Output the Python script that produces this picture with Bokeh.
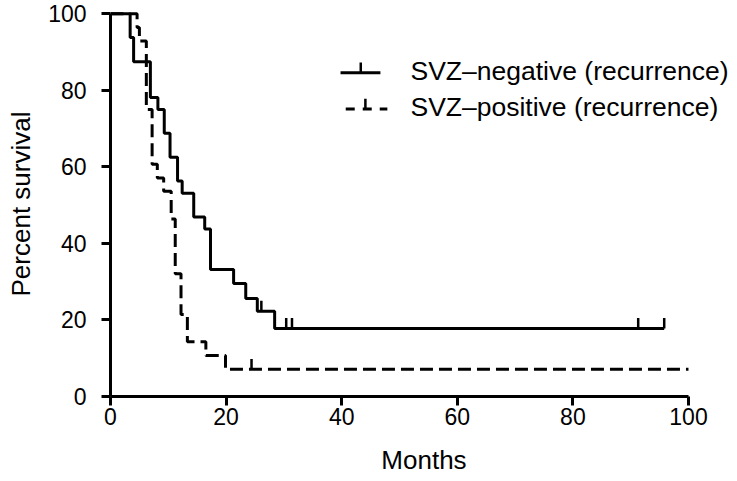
import numpy as np
from bokeh.plotting import figure
from bokeh.models import Range1d, FixedTicker, Label
from bokeh.embed import file_html
from bokeh.resources import INLINE

# ---- data ----
neg_months = [0, 3.4, 4.0, 6.9, 8.2, 9.3, 10.3, 11.6, 12.4, 14.4, 16.3, 17.3, 21.3, 23.4, 25.4, 28.4, 95.8]
neg_survival = [100, 93.8, 87.5, 78.1, 75.0, 68.8, 62.5, 56.3, 53.1, 46.9, 43.8, 33.2, 29.5, 25.6, 22.3, 17.8, 17.8]
neg_censored = [26.1, 30.4, 31.4, 91.3, 95.8]

pos_months = [0, 4.6, 5.0, 6.2, 7.2, 8.1, 9.2, 10.5, 11.2, 12.2, 13.3, 16.5, 19.9, 100]
pos_survival = [100, 96.4, 92.9, 75.0, 60.7, 57.1, 53.6, 46.4, 32.1, 21.4, 14.3, 10.7, 7.1, 7.1]
pos_censored = [24.4]

x_ticks = [0, 20, 40, 60, 80, 100]
y_ticks = [0, 20, 40, 60, 80, 100]
series_labels = ["SVZ\u2013negative (recurrence)", "SVZ\u2013positive (recurrence)"]
x_label = "Months"
y_label = "Percent survival"

FONT = "Liberation Sans"
TICK_H = 2.7  # censor tick height in % units


def level_at(t, months, surv):
    idx = np.searchsorted(np.asarray(months), np.asarray(t), side="right") - 1
    return np.asarray(surv)[idx]


# frame spans to the right edge so the legend text is not clipped; axes are bounded to 0..100
p = figure(width=737, height=481, output_backend="svg", toolbar_location=None,
           x_range=Range1d(0, 108.48), y_range=Range1d(0, 100.6),
           min_border_left=110, min_border_right=0, min_border_top=11, min_border_bottom=85)
p.background_fill_color = "white"
p.border_fill_color = "white"
p.outline_line_color = None
p.grid.visible = False

# curves
p.step(x=neg_months, y=neg_survival, mode="after", line_color="black", line_width=3)
p.step(x=pos_months, y=pos_survival, mode="after", line_color="black", line_width=3,
       line_dash="13 6")

# censor marks
ny = level_at(neg_censored, neg_months, neg_survival)
p.segment(x0=neg_censored, y0=ny, x1=neg_censored, y1=ny + TICK_H, line_color="black", line_width=2.5)
py = level_at(pos_censored, pos_months, pos_survival)
p.segment(x0=pos_censored, y0=py, x1=pos_censored, y1=py + TICK_H, line_color="black", line_width=2.5)

# legend (manual)
leg_y = [84.6, 75.1]
p.segment(x0=[39.8], y0=[leg_y[0]], x1=[46.7], y1=[leg_y[0]], line_color="black", line_width=3)
p.segment(x0=[43.3], y0=[leg_y[0]], x1=[43.3], y1=[leg_y[0] + TICK_H], line_color="black", line_width=2.5)
p.segment(x0=[40.7], y0=[leg_y[1]], x1=[47.9], y1=[leg_y[1]], line_color="black", line_width=3,
          line_dash="9 8")
p.segment(x0=[44.1], y0=[leg_y[1]], x1=[44.1], y1=[leg_y[1] + TICK_H], line_color="black", line_width=2.5)
for lab, yy in zip(series_labels, leg_y):
    p.add_layout(Label(x=51.9, y=yy + 0.5, x_units="data", y_units="data", text=lab,
                       text_font=FONT, text_font_size="26.5px", text_align="left",
                       text_baseline="middle", text_color="black"))

# axes
for ax in (p.xaxis[0], p.yaxis[0]):
    ax.bounds = (0, 100)
    ax.axis_line_width = 3
    ax.axis_line_color = "black"
    ax.major_tick_line_width = 3
    ax.major_tick_line_color = "black"
    ax.major_tick_in = 0
    ax.major_tick_out = 9
    ax.minor_tick_line_color = None
    ax.major_label_text_font = FONT
    ax.major_label_text_font_size = "23px"
    ax.major_label_text_color = "black"
    ax.axis_label_text_font = FONT
    ax.axis_label_text_font_size = "26px"
    ax.axis_label_text_font_style = "normal"
    ax.axis_label_text_color = "black"

p.xaxis.ticker = FixedTicker(ticks=x_ticks)
p.yaxis.ticker = FixedTicker(ticks=y_ticks)
p.xaxis.axis_label = x_label
p.yaxis.axis_label = y_label
p.xaxis.major_label_standoff = 2
p.yaxis.major_label_standoff = 15
p.xaxis.axis_label_standoff = 17
p.yaxis.axis_label_standoff = 9

open("out.html", "w").write(file_html(p, INLINE))
